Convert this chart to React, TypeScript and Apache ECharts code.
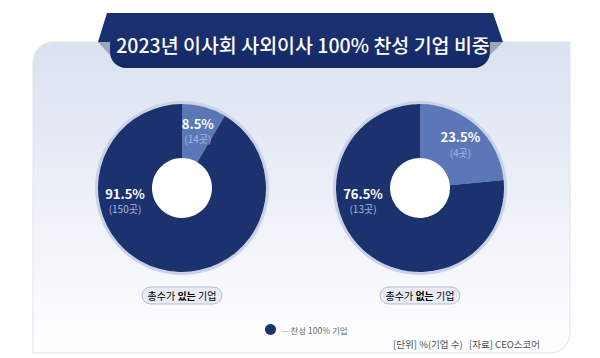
import React, { useEffect, useRef } from "react";
import * as echarts from "echarts";

const FONT = "'Noto Sans CJK KR', 'Noto Sans', sans-serif";

const titleText = "2023년 이사회 사외이사 100% 찬성 기업 비중";
const groups = ["총수가 있는 기업", "총수가 없는 기업"];
const groupBold = ["있는", "없는"];
const full100Name = "찬성 100% 기업";
const otherName = "기타";
const full100Pct = [91.5, 76.5];
const full100Count = [150, 13];
const otherPct = [8.5, 23.5];
const otherCount = [14, 4];
const footText = "[단위] %(기업 수)   [자료] CEO스코어";

const DARK = "#1c326f";
const LIGHT = "#5b77b7";
const centers: [number, number][] = [
  [182, 188],
  [420, 188],
];
const R0 = 30;
const R1 = 84;

export default function App() {
  const ref = useRef<HTMLDivElement>(null);
  useEffect(() => {
    document.body.style.margin = "0";
    const chart = echarts.init(ref.current!, null, { renderer: "svg" });

    const labelRich = {
      v: { color: "#ffffff", fontSize: 13, fontWeight: "bold", fontFamily: FONT, lineHeight: 17 },
      n: { color: "#a9b8de", fontSize: 10, fontFamily: FONT, lineHeight: 14 },
    };

    const series: any[] = [];
    groups.forEach((g, i) => {
      const [cx, cy] = centers[i];
      series.push({
        type: "pie",
        silent: true,
        center: [cx, cy],
        radius: [R1, R1 + 3],
        z: 1,
        label: { show: false },
        labelLine: { show: false },
        data: [{ value: 1, name: "ring", itemStyle: { color: "#c9d2e9" } }],
      });
      series.push({
        type: "pie",
        silent: true,
        center: [cx, cy],
        radius: [0, R0],
        z: 1,
        label: { show: false },
        labelLine: { show: false },
        data: [{ value: 1, name: "hole", itemStyle: { color: "#ffffff" } }],
      });
      series.push({
        type: "pie",
        silent: true,
        center: [cx, cy],
        radius: [R0, R1],
        startAngle: 90,
        clockwise: true,
        avoidLabelOverlap: false,
        z: 3,
        itemStyle: { borderWidth: 0 },
        label: {
          show: true,
          position: "inside",
          rich: labelRich,
          formatter: (p: any) => `{v|${p.data.pct}%}\n{n|(${p.data.count}곳)}`,
        },
        labelLine: { show: false },
        labelLayout: (params: any) =>
          params.dataIndex === 1
            ? { x: cx - (R0 + R1) / 2, y: cy + 12, align: "center", verticalAlign: "middle" }
            : {},
        data: [
          { name: otherName, value: otherPct[i], pct: otherPct[i], count: otherCount[i], itemStyle: { color: LIGHT } },
          { name: full100Name, value: full100Pct[i], pct: full100Pct[i], count: full100Count[i], itemStyle: { color: DARK } },
        ],
      });
    });

    const pills = groups.map((g, i) => {
      const [before, after] = g.split(groupBold[i]);
      return {
        type: "text",
        z: 20,
        x: centers[i][0],
        y: 295.5,
        style: {
          text: `{a|${before}}{b|${groupBold[i]}}{a|${after}}`,
          align: "center",
          verticalAlign: "middle",
          backgroundColor: "#e8ecf6",
          borderColor: "#b1bcd6",
          borderWidth: 1,
          borderRadius: 8,
          padding: [2, 5],
          rich: {
            a: { fontSize: 10, fontFamily: FONT, color: "#3b4566", lineHeight: 12 },
            b: { fontSize: 10, fontFamily: FONT, color: "#1d2847", fontWeight: "bold", lineHeight: 12 },
          },
        },
      };
    });

    chart.setOption({
      animation: false,
      backgroundColor: "#ffffff",
      legend: {
        data: [full100Name],
        left: 260,
        top: 319,
        icon: "circle",
        itemWidth: 11,
        itemHeight: 11,
        itemGap: 10,
        selectedMode: false,
        formatter: (name: string) => `{d|—} ${name}`,
        textStyle: {
          color: "#666a75",
          fontSize: 8.5,
          fontFamily: FONT,
          rich: { d: { color: "#a0a4ad", fontSize: 8.5, fontFamily: FONT } },
        },
      },
      graphic: [
        {
          type: "rect",
          z: 0,
          shape: { x: 33, y: 42, width: 537, height: 311, r: [20, 0, 20, 0] },
          style: {
            fill: new echarts.graphic.LinearGradient(0, 0, 0, 1, [
              { offset: 0, color: "#dae1f0" },
              { offset: 1, color: "#ffffff" },
            ]),
            stroke: "#dfe3ec",
            lineWidth: 1,
          },
        },
        {
          type: "polygon",
          z: 10,
          shape: { points: [[107, 13], [493, 13], [503, 42], [98, 42]] },
          style: { fill: "#1b3070" },
        },
        {
          type: "rect",
          z: 10,
          shape: { x: 110, y: 30, width: 380, height: 38, r: [0, 0, 16, 16] },
          style: {
            fill: new echarts.graphic.LinearGradient(0, 0, 0, 1, [
              { offset: 0, color: "#1b3070" },
              { offset: 1, color: "#142966" },
            ]),
          },
        },
        {
          type: "polygon",
          z: 11,
          shape: { points: [[98, 42], [110, 42], [110, 55]] },
          style: { fill: "#9ea7b8" },
        },
        {
          type: "polygon",
          z: 11,
          shape: { points: [[503, 42], [490, 42], [490, 55]] },
          style: { fill: "#9ea7b8" },
        },
        {
          type: "text",
          z: 12,
          x: 303,
          y: 44,
          style: {
            text: titleText,
            align: "center",
            verticalAlign: "middle",
            fill: "#ffffff",
            fontSize: 19.5,
            fontWeight: 500,
            fontFamily: FONT,
          },
        },
        ...pills,
        {
          type: "text",
          z: 20,
          x: 540,
          y: 344,
          style: {
            text: footText,
            align: "right",
            verticalAlign: "middle",
            fill: "#4a4f5c",
            fontSize: 9.5,
            fontFamily: FONT,
          },
        },
      ],
      series,
    });
    return () => chart.dispose();
  }, []);
  return <div ref={ref} style={{ width: 600, height: 358 }} />;
}
